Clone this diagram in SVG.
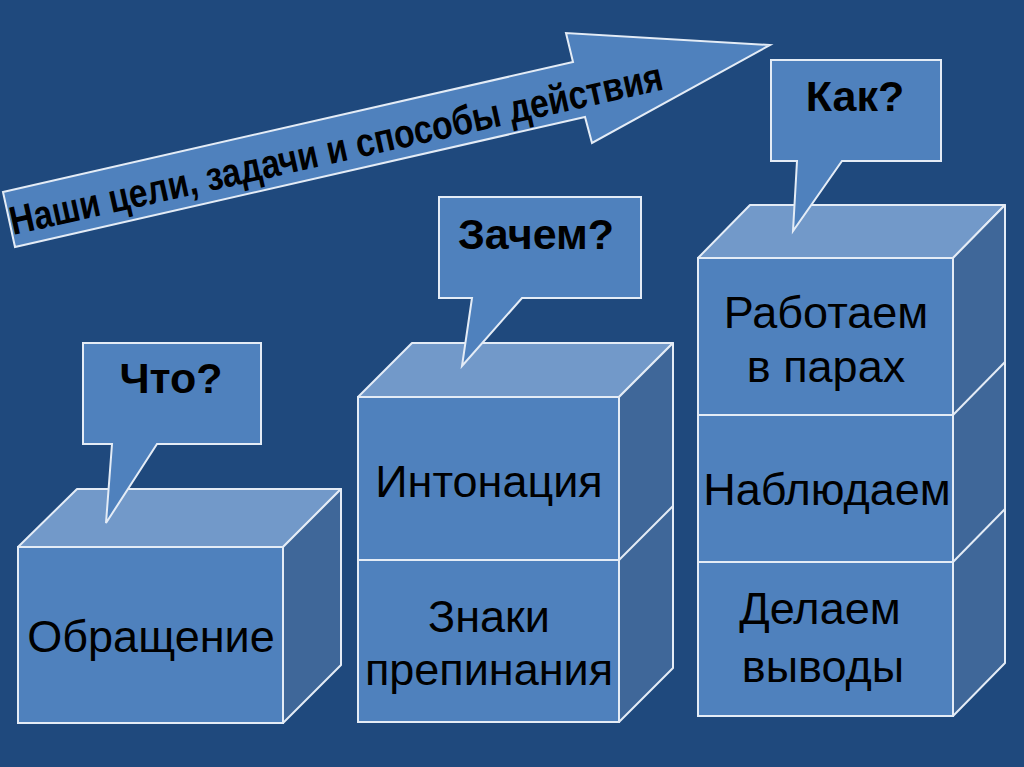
<svg xmlns="http://www.w3.org/2000/svg" width="1024" height="767" viewBox="0 0 1024 767">
  <style>
    .bg { fill: #1F497D; }
    .front { fill: #4F81BD; stroke: #E4ECF6; stroke-width: 2; }
    .top { fill: #7299C9; stroke: #E4ECF6; stroke-width: 2; stroke-linejoin: round; }
    .side { fill: #3F6799; stroke: #E4ECF6; stroke-width: 2; stroke-linejoin: round; }
    .line { stroke: #E4ECF6; stroke-width: 2; fill: none; }
    .callout { fill: #4F81BD; stroke: #E4ECF6; stroke-width: 2; stroke-linejoin: miter; }
    .lbl { font-family: "Liberation Sans", Arial, sans-serif; font-size: 45px; fill: #000; text-anchor: middle; }
    .q { font-family: "Liberation Sans", Arial, sans-serif; font-size: 43px; font-weight: bold; fill: #000; text-anchor: middle; }
    .arrowtext { font-family: "Liberation Sans", Arial, sans-serif; font-size: 40px; font-weight: bold; fill: #000; }
  </style>
  <rect class="bg" x="0" y="0" width="1024" height="767"/>

  <g id="arrow">
    <polygon class="callout" points="3,192 573,62 566,33 770,45 592,143 585,117 15,247"/>
    <text class="arrowtext" transform="translate(13,235) rotate(-12.6)" textLength="668" lengthAdjust="spacingAndGlyphs">Наши цели, задачи и способы действия</text>
  </g>

  <g id="connectors"></g>

  <g id="box-obrashchenie">
    <polygon class="top" points="18,547 77,489 341,489 283,547"/>
    <polygon class="side" points="283,547 341,489 341,665 283,723"/>
    <rect class="front" x="18" y="547" width="265" height="176"/>
    <text class="lbl" x="151" y="652">Обращение</text>
  </g>

  <g id="box-intonatsiya">
    <polygon class="top" points="358,397 412,343 673,343 619,397"/>
    <polygon class="side" points="619,397 673,343 673,668 619,722"/>
    <line class="line" x1="619" y1="560" x2="673" y2="506"/>
    <rect class="front" x="358" y="397" width="261" height="325"/>
    <line class="line" x1="358" y1="560" x2="619" y2="560"/>
    <text class="lbl" x="489" y="497">Интонация</text>
    <text class="lbl" x="489" y="632">Знаки</text>
    <text class="lbl" x="489" y="685">препинания</text>
  </g>

  <g id="box-rabotaem">
    <polygon class="top" points="698,258 750,205 1005,205 953,258"/>
    <polygon class="side" points="953,258 1005,205 1005,663 953,716"/>
    <line class="line" x1="953" y1="415" x2="1005" y2="362"/>
    <line class="line" x1="953" y1="562" x2="1005" y2="509"/>
    <rect class="front" x="698" y="258" width="255" height="458"/>
    <line class="line" x1="698" y1="415" x2="953" y2="415"/>
    <line class="line" x1="698" y1="562" x2="953" y2="562"/>
    <text class="lbl" x="826" y="328">Работаем</text>
    <text class="lbl" x="826" y="382">в парах</text>
    <text class="lbl" x="827" y="505">Наблюдаем</text>
    <text class="lbl" x="820" y="624">Делаем</text>
    <text class="lbl" x="823" y="682">выводы</text>
  </g>

  <g id="callout-chto">
    <polygon class="callout" points="83,343 261,343 261,444 157,444 106,523 112,444 83,444"/>
    <text class="q" x="171" y="393">Что?</text>
  </g>

  <g id="callout-zachem">
    <polygon class="callout" points="439,197 641,197 641,298 522,298 462,366 472,298 439,298"/>
    <text class="q" x="536" y="249">Зачем?</text>
  </g>

  <g id="callout-kak">
    <polygon class="callout" points="771,60 941,60 941,161 842,161 793,231 797,161 771,161"/>
    <text class="q" x="855" y="111">Как?</text>
  </g>
</svg>
